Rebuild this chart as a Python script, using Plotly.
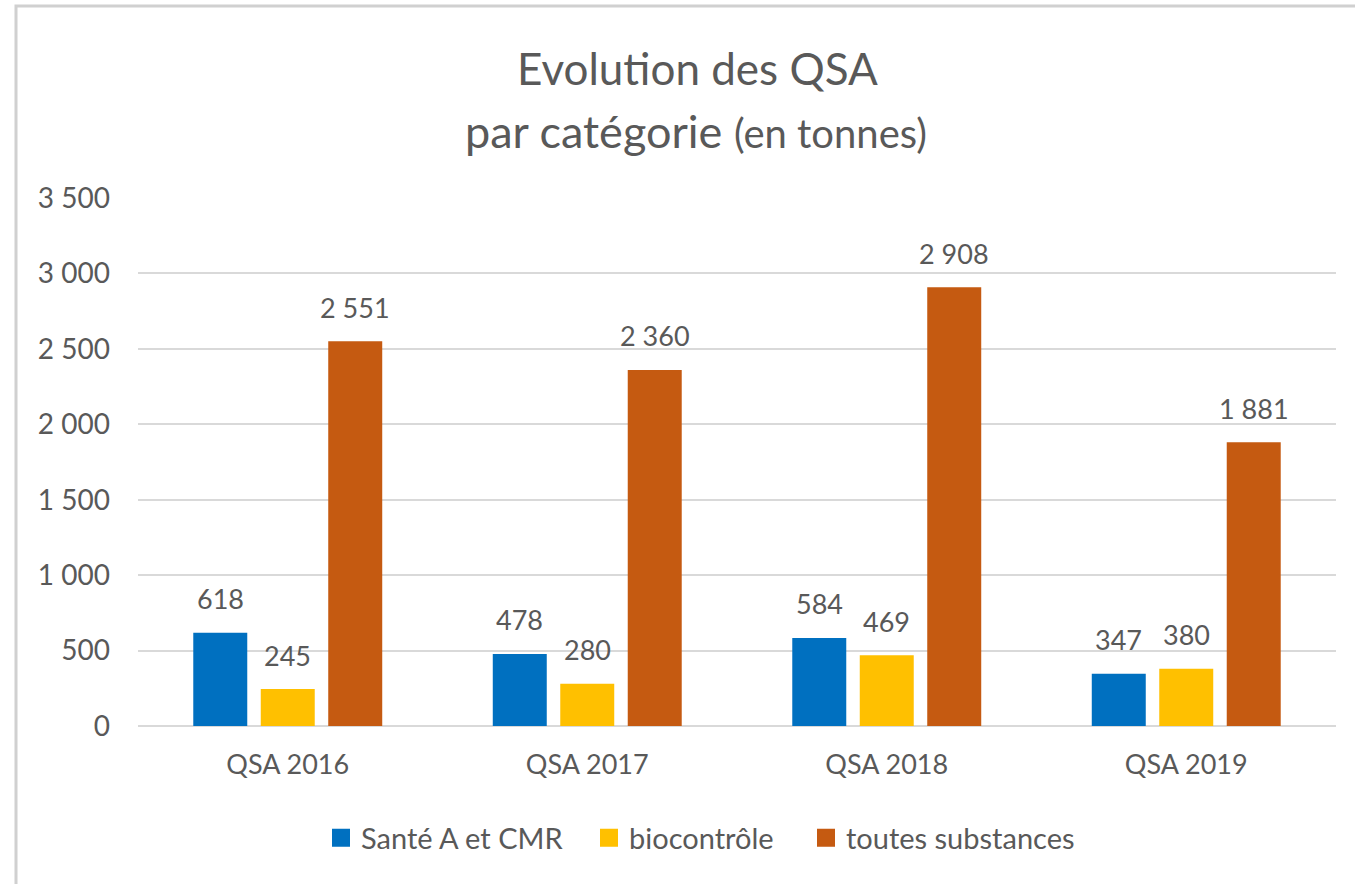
import plotly.graph_objects as go

categories = ["QSA 2016", "QSA 2017", "QSA 2018", "QSA 2019"]
sante = [618, 478, 584, 347]
bioc = [245, 280, 469, 380]
toutes = [2551, 2360, 2908, 1881]
series_names = ["Santé A et CMR", "biocontrôle", "toutes substances"]
colors = ["#0070C0", "#FFC000", "#C55A11"]
y_ticks = [0, 500, 1000, 1500, 2000, 2500, 3000, 3500]

FONT = "Lato"
GREY = "#595959"

W, H = 1355, 884
L, R, T, B = 138, 19, 198, 158
pw = W - L - R
ph = H - T - B
BARGAP = 0.324
BARGROUPGAP = 0.2
LEGEND_X_PIX = [321, 589, 806]

def py(ypix):
    return (H - B - ypix) / ph

def px(xpix):
    return (xpix - L) / pw

fig = go.Figure()
all_series = [sante, bioc, toutes]
legend_ids = ["legend", "legend2", "legend3"]
for name, vals, col, lid in zip(series_names, all_series, colors, legend_ids):
    fig.add_trace(go.Bar(
        x=categories, y=vals, name=name,
        marker=dict(color=col, line=dict(width=0)),
        showlegend=False,
    ))
    fig.add_trace(go.Scatter(
        x=[None], y=[None], mode="markers", name=name,
        marker=dict(symbol="square", size=16, color=col, line=dict(color=col, width=2)),
        showlegend=True, legend=lid,
    ))

# data labels above bars
cat_px = pw / len(categories)
slot_px = cat_px * (1 - BARGAP) / len(all_series)
annotations = []
for i, vals in enumerate(all_series):
    off = (i - (len(all_series) - 1) / 2) * slot_px
    for c, v in zip(categories, vals):
        annotations.append(dict(
            x=c, y=v, xref="x", yref="y", text=f"{v:,}".replace(",", " "),
            showarrow=False, xshift=off, yshift=34, yanchor="middle",
            font=dict(family=FONT, size=27, color=GREY),
        ))

annotations.append(dict(
    x=px(697), y=py(68), xref="paper", yref="paper",
    text="Evolution des QSA", showarrow=False, xanchor="center", yanchor="middle",
    font=dict(family=FONT, size=44, color=GREY),
))
annotations.append(dict(
    x=px(696), y=py(131), xref="paper", yref="paper",
    text="par catégorie <span style='font-size:40px'>(en tonnes)</span>",
    showarrow=False, xanchor="center", yanchor="middle",
    font=dict(family=FONT, size=45, color=GREY),
))

legend_common = dict(
    orientation="h", y=py(838), yanchor="middle", xanchor="left",
    font=dict(family=FONT, size=29, color=GREY),
    itemsizing="trace", bgcolor="rgba(0,0,0,0)",
)

fig.update_layout(
    width=W, height=H,
    margin=dict(l=L, r=R, t=T, b=B),
    paper_bgcolor="white", plot_bgcolor="white",
    separators=", ",
    barmode="group", bargap=BARGAP, bargroupgap=BARGROUPGAP,
    font=dict(family=FONT, color=GREY),
    annotations=annotations,
    legend=dict(x=px(LEGEND_X_PIX[0]), **legend_common),
    legend2=dict(x=px(LEGEND_X_PIX[1]), **legend_common),
    legend3=dict(x=px(LEGEND_X_PIX[2]), **legend_common),
    xaxis=dict(
        showgrid=False, showline=False,
        tickfont=dict(family=FONT, size=27, color=GREY),
        ticks="", ticklabelstandoff=20,
    ),
    yaxis=dict(
        range=[0, 3500], tickvals=y_ticks, tickformat=",d",
        showgrid=True, gridcolor="#D9D9D9", gridwidth=1.5,
        zeroline=True, zerolinecolor="#D9D9D9", zerolinewidth=1.5,
        showline=False, ticks="",
        tickfont=dict(family=FONT, size=28, color=GREY),
        ticklabelstandoff=27,
    ),
    shapes=[dict(
        type="rect", xref="paper", yref="paper",
        x0=px(16), x1=px(W + 20),
        y0=py(H + 20), y1=py(6),
        line=dict(color="#D0D0D0", width=3), fillcolor="rgba(0,0,0,0)", layer="below",
    )],
)

fig.write_html("out.html", config={"displayModeBar": False},
               post_script="document.body.style.margin='0px';")
